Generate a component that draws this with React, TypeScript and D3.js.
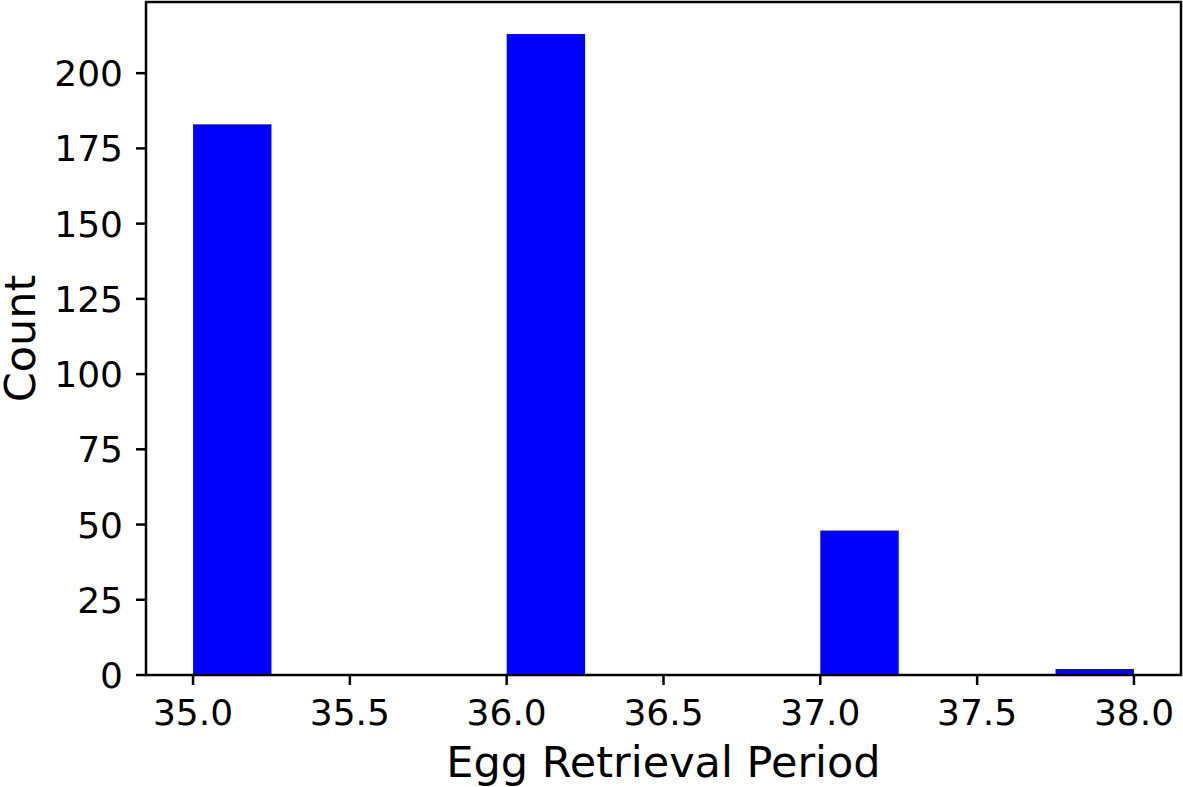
import React from "react";
import * as d3 from "d3";

const binStarts = [35.0, 35.25, 35.5, 35.75, 36.0, 36.25, 36.5, 36.75, 37.0, 37.25, 37.5, 37.75];
const binWidth = 0.25;
const counts = [183, 0, 0, 0, 213, 0, 0, 0, 48, 0, 0, 2];
const xTicks = [35.0, 35.5, 36.0, 36.5, 37.0, 37.5, 38.0];
const yTicks = [0, 25, 50, 75, 100, 125, 150, 175, 200];
const xLabel = "Egg Retrieval Period";
const yLabel = "Count";

export default function App() {
  const W = 1183, H = 787;
  const left = 146, right = 1181, top = 2, bottom = 675;
  const x = d3.scaleLinear().domain([34.85, 38.15]).range([left, right]);
  const y = d3.scaleLinear().domain([0, 223.65]).range([bottom, top]);
  const font = "DejaVu Sans, sans-serif";
  return (
    <svg width={W} height={H} style={{ position: "absolute", left: 0, top: 0 }}>
      <rect width={W} height={H} fill="#fff" />
      {binStarts.map((b, i) =>
        counts[i] > 0 ? (
          <rect key={i} x={x(b)} y={y(counts[i])} width={x(b + binWidth) - x(b)} height={y(0) - y(counts[i])} fill="#0000ff" />
        ) : null
      )}
      <rect x={left} y={top} width={right - left} height={bottom - top} fill="none" stroke="#000" strokeWidth={2.5} />
      {xTicks.map((t) => (
        <g key={t}>
          <line x1={x(t)} x2={x(t)} y1={bottom} y2={bottom + 10} stroke="#000" strokeWidth={2.5} />
          <text x={x(t)} y={725} textAnchor="middle" fontFamily={font} fontSize={36} fill="#000">{t.toFixed(1)}</text>
        </g>
      ))}
      {yTicks.map((t) => (
        <g key={t}>
          <line x1={left - 10} x2={left} y1={y(t)} y2={y(t)} stroke="#000" strokeWidth={2.5} />
          <text x={123} y={y(t)} dy="0.36em" textAnchor="end" fontFamily={font} fontSize={36} fill="#000">{t}</text>
        </g>
      ))}
      <text x={(left + right) / 2} y={777} textAnchor="middle" fontFamily={font} fontSize={43} fill="#000">{xLabel}</text>
      <text transform={`translate(35,${(top + bottom) / 2}) rotate(-90)`} textAnchor="middle" fontFamily={font} fontSize={43} fill="#000">{yLabel}</text>
    </svg>
  );
}
